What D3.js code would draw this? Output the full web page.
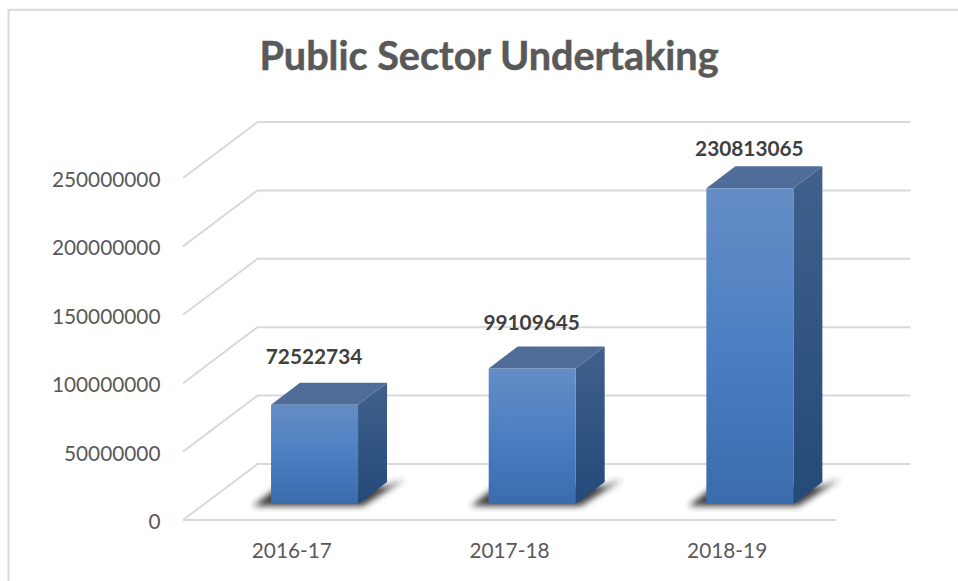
<!DOCTYPE html>
<html>
<head>
<meta charset="utf-8">
<script src="https://cdn.jsdelivr.net/npm/d3@7"></script>
<style>
  html, body { margin: 0; padding: 0; background: #fff; }
  svg { display: block; font-family: Lato, "Open Sans", sans-serif; }
</style>
</head>
<body>
<div id="chart"></div>
<script>
const categories = ['2016-17', '2017-18', '2018-19'];
const values = [72522734, 99109645, 230813065];
const yTicks = [0, 50000000, 100000000, 150000000, 200000000, 250000000];
const titleText = 'Public Sector Undertaking';

const W = 958, H = 581;
const svg = d3.select('#chart').append('svg').attr('width', W).attr('height', H);
const defs = svg.append('defs');

// 前面板的直向漸層
const frontGrad = defs.append('linearGradient').attr('id', 'front')
  .attr('x1', 0).attr('y1', 0).attr('x2', 0).attr('y2', 1);
[[0, '#658dc5'], [0.5, '#4b7fc2'], [1, '#3a6cad']].forEach(([o, c]) =>
  frontGrad.append('stop').attr('offset', o).attr('stop-color', c));
const sideGrad = defs.append('linearGradient').attr('id', 'side')
  .attr('x1', 0).attr('y1', 0).attr('x2', 0).attr('y2', 1);
[[0, '#41608c'], [1, '#234a7a']].forEach(([o, c]) =>
  sideGrad.append('stop').attr('offset', o).attr('stop-color', c));
defs.append('filter').attr('id', 'blur').attr('x', '-20%').attr('y', '-40%').attr('width', '140%').attr('height', '180%')
  .append('feGaussianBlur').attr('stdDeviation', 3);

// 外框
svg.append('path').attr('d', `M8.5,${H}V9.7H${W}`).attr('fill', 'none').attr('stroke', '#d9d9d9').attr('stroke-width', 2);

// 3D 牆面：前緣與後緣差 (wallDx, wallDy)
const floorLeft = 183, floorRight = 836, floorY = 520;
const wallDx = 74.5, wallDy = -56;
const barDx = 29, barDy = -22, barInset = 16;

const y = d3.scaleLinear().domain([0, 250000000]).range([floorY, floorY - 342]);
const x = d3.scaleBand().domain(categories).range([floorLeft, floorRight]);
const barW = 87;
// 標籤離柱頂的距離隨數值縮小
const labelGap = d3.scaleLinear().domain([values[0], values[1], values[2]]).range([19, 16, 10]);

const grid = svg.append('g').attr('fill', 'none').attr('stroke', '#d9d9d9').attr('stroke-width', 2);
yTicks.forEach((t) => {
  grid.append('path').attr('d',
    `M${floorLeft},${y(t)}L${floorLeft + wallDx},${y(t) + wallDy}H${floorRight + wallDx}`);
});
grid.append('path').attr('d', `M${floorLeft},${floorY}H${floorRight}`);

// 柱
const barsG = svg.append('g');
categories.forEach((c, i) => {
  const bx = x(c) + x.bandwidth() / 2 + 22.7 - barW / 2;
  const by0 = floorY - barInset;
  const h = y(0) - y(values[i]);
  const top = by0 - h;
  const g = barsG.append('g');
  // 陰影
  g.append('path')
    .attr('d', `M${bx - 18},${by0 + 2}L${bx + 8},${by0 - 18}H${bx + barW + barDx}L${bx + barW + barDx + 18},${by0 - 25}L${bx + barW + 5},${by0 + 2}Z`)
    .attr('fill', '#2b2b2b').attr('opacity', 0.9).attr('filter', 'url(#blur)');
  g.append('path').attr('d', `M${bx},${top}l${barDx},${barDy}h${barW}l${-barDx},${-barDy}Z`).attr('fill', '#4f6d98');
  g.append('path').attr('d', `M${bx + barW},${top}l${barDx},${barDy}V${by0 + barDy}l${-barDx},${-barDy}Z`).attr('fill', 'url(#side)');
  g.append('rect').attr('x', bx).attr('y', top).attr('width', barW).attr('height', h).attr('fill', 'url(#front)');
  svg.append('text').attr('x', bx + barW / 2 - 0.5).attr('y', top + barDy - labelGap(values[i]))
    .attr('text-anchor', 'middle').attr('font-size', 20.8).attr('font-weight', 700).attr('fill', '#404040')
    .text(d3.format('d')(values[i]));
});

// 軸文字
svg.append('g').selectAll('text').data(yTicks).join('text')
  .attr('x', 160.5).attr('y', (d) => y(d) + 9)
  .attr('text-anchor', 'end').attr('font-size', 20.8).attr('fill', '#595959')
  .text((d) => d3.format('d')(d));
svg.append('g').selectAll('text').data(categories).join('text')
  .attr('x', (d) => x(d) + x.bandwidth() / 2).attr('y', 558)
  .attr('text-anchor', 'middle').attr('font-size', 20.8).attr('fill', '#595959')
  .text((d) => d);

svg.append('text').attr('x', 489).attr('y', 70).attr('text-anchor', 'middle')
  .attr('font-size', 39.6).attr('font-weight', 700).attr('fill', '#595959')
  .attr('stroke', '#595959').attr('stroke-width', 0.5).text(titleText);
</script>
</body>
</html>
